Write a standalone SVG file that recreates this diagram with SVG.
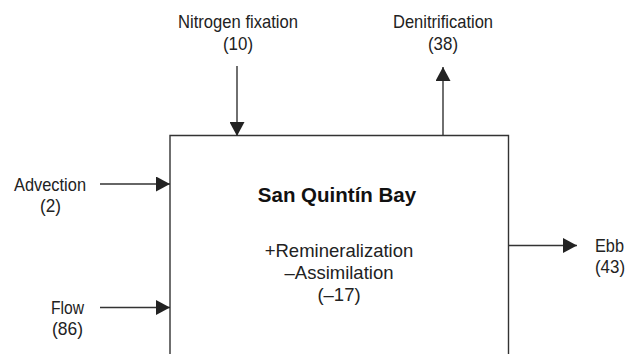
<svg xmlns="http://www.w3.org/2000/svg" width="628" height="354" viewBox="0 0 628 354">
<style>
.lbl{font-family:"Liberation Sans",Arial,sans-serif;font-size:18.5px;fill:#222;text-anchor:middle}
.in{font-family:"Liberation Sans",Arial,sans-serif;font-size:18.5px;fill:#222;text-anchor:middle}
.ttl{font-family:"Liberation Sans",Arial,sans-serif;font-size:20.5px;font-weight:bold;fill:#111;text-anchor:middle}
.ln{stroke:#333;stroke-width:1.4;fill:none}
</style>
<defs>
<marker id="ah" viewBox="0 0 14 15" refX="14" refY="7.5" markerWidth="14" markerHeight="15" markerUnits="userSpaceOnUse" orient="auto">
<path d="M0,0 L14,7.5 L0,15 Z" fill="#222"/>
</marker>
</defs>
<g id="bay">
<path class="ln" d="M170,354 L170,135.5 L508.5,135.5 L508.5,354" stroke="#222"/>
<text class="ttl" x="337" y="202">San Quintín Bay</text>
<text class="in" x="339" y="257">+Remineralization</text>
<text class="in" x="339" y="279">–Assimilation</text>
<text class="in" x="339" y="301">(–17)</text>
</g>
<g id="nitrogen-fixation">
<text class="lbl" x="238" y="28" textLength="120" lengthAdjust="spacingAndGlyphs">Nitrogen fixation</text>
<text class="lbl" x="238" y="50" textLength="30" lengthAdjust="spacingAndGlyphs">(10)</text>
</g>
<g id="denitrification">
<text class="lbl" x="443" y="28" textLength="100" lengthAdjust="spacingAndGlyphs">Denitrification</text>
<text class="lbl" x="443" y="50" textLength="30" lengthAdjust="spacingAndGlyphs">(38)</text>
</g>
<g id="advection">
<text class="lbl" x="50" y="191" textLength="72" lengthAdjust="spacingAndGlyphs">Advection</text>
<text class="lbl" x="50.5" y="212" textLength="21" lengthAdjust="spacingAndGlyphs">(2)</text>
</g>
<g id="flow">
<text class="lbl" x="67.5" y="314" textLength="33" lengthAdjust="spacingAndGlyphs">Flow</text>
<text class="lbl" x="67.5" y="335" textLength="31" lengthAdjust="spacingAndGlyphs">(86)</text>
</g>
<g id="ebb">
<text class="lbl" x="609.5" y="252" textLength="29" lengthAdjust="spacingAndGlyphs">Ebb</text>
<text class="lbl" x="610" y="273" textLength="30" lengthAdjust="spacingAndGlyphs">(43)</text>
</g>
<g id="connectors">
<line class="ln" x1="237" y1="66" x2="237" y2="136" marker-end="url(#ah)"/>
<line class="ln" x1="443" y1="135" x2="443" y2="67" marker-end="url(#ah)"/>
<line class="ln" x1="100" y1="184" x2="170" y2="184" marker-end="url(#ah)"/>
<line class="ln" x1="100" y1="307.5" x2="170" y2="307.5" marker-end="url(#ah)"/>
<line class="ln" x1="509" y1="245.5" x2="577" y2="245.5" marker-end="url(#ah)"/>
</g>
</svg>
